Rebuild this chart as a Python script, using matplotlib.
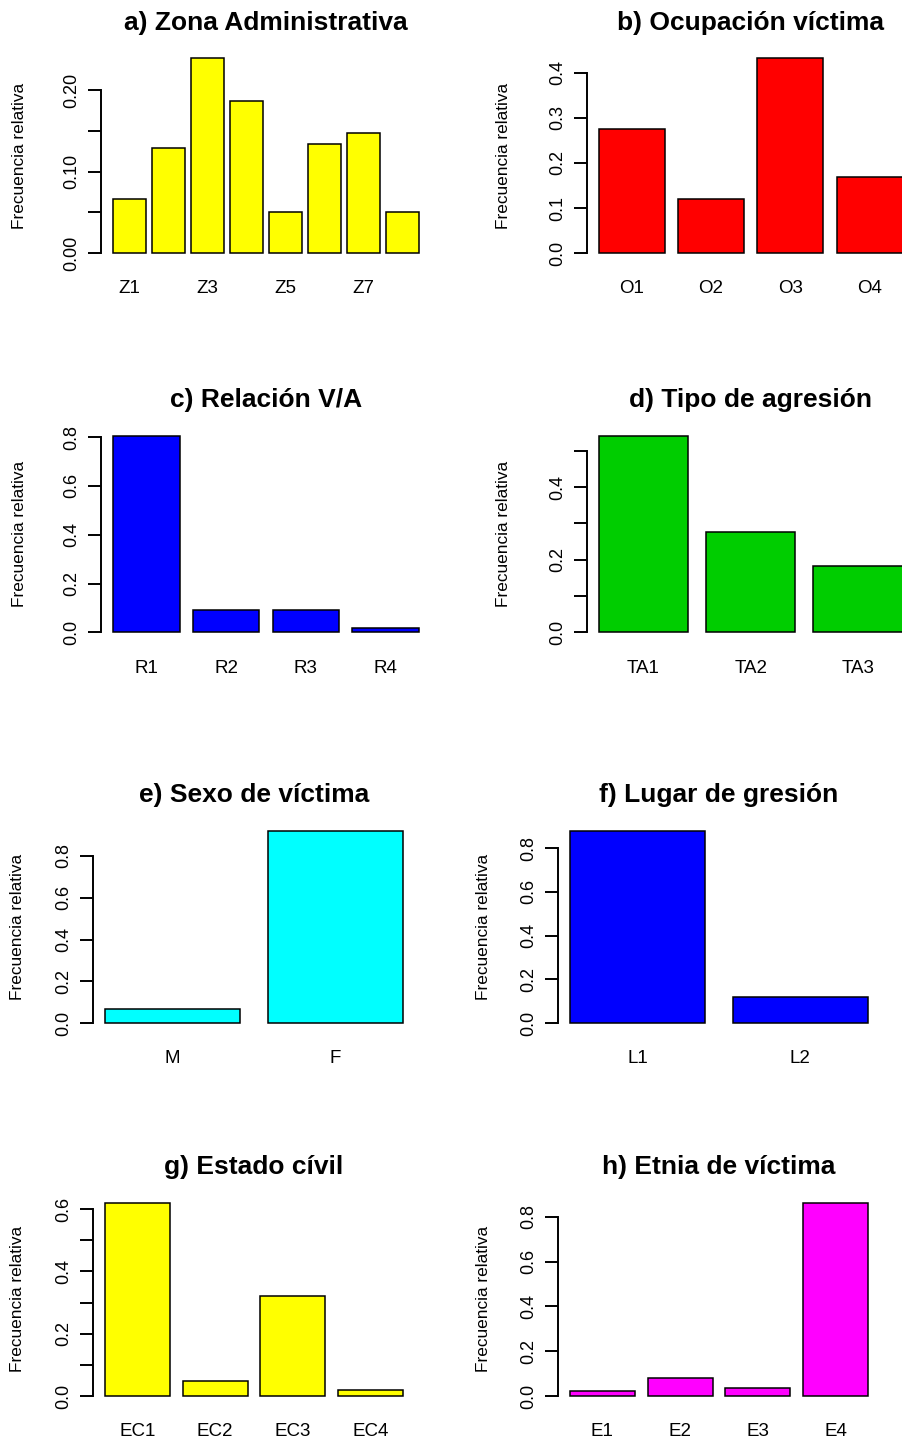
import numpy as np
import matplotlib
matplotlib.use("Agg")
import matplotlib.pyplot as plt

plt.rcParams['font.family'] = ['Liberation Sans', 'DejaVu Sans']

# relative frequencies
zona_names = ["Z1", "Z2", "Z3", "Z4", "Z5", "Z6", "Z7", "Z8"]
zona_freq = [0.066, 0.129, 0.239, 0.187, 0.050, 0.134, 0.148, 0.050]

ocup_names = ["O1", "O2", "O3", "O4"]
ocup_freq = [0.275, 0.121, 0.432, 0.170]

rel_names = ["R1", "R2", "R3", "R4"]
rel_freq = [0.805, 0.093, 0.093, 0.017]

tipo_names = ["TA1", "TA2", "TA3"]
tipo_freq = [0.541, 0.277, 0.182]

sexo_names = ["M", "F"]
sexo_freq = [0.069, 0.920]

lugar_names = ["L1", "L2"]
lugar_freq = [0.879, 0.120]

civil_names = ["EC1", "EC2", "EC3", "EC4"]
civil_freq = [0.620, 0.047, 0.320, 0.018]

etnia_names = ["E1", "E2", "E3", "E4"]
etnia_freq = [0.024, 0.081, 0.036, 0.863]

W, H = 902, 1441
fig = plt.figure(figsize=(W / 100, H / 100), dpi=100)

# title, names, values, colour, plot region px (left, right, top, bottom),
# tick step, label every k ticks, format, show every k-th name, ylabel distance px
panels = [
    ("a) Zona Administrativa", zona_names, zona_freq, "#FFFF00",
     (101, 431, 50.5, 261), 0.05, 2, "%.2f", 2, 82),
    ("b) Ocupación víctima", ocup_names, ocup_freq, "#FF0000",
     (586.7, 914.7, 50.5, 261), 0.1, 1, "%.1f", 1, 83),
    ("c) Relación V/A", rel_names, rel_freq, "#0000FF",
     (101, 431, 428, 640.2), 0.2, 1, "%.1f", 1, 82),
    ("d) Tipo de agresión", tipo_names, tipo_freq, "#00CD00",
     (586.7, 914.7, 428, 640.2), 0.1, 2, "%.1f", 1, 83),
    ("e) Sexo de víctima", sexo_names, sexo_freq, "#00FFFF",
     (93, 415, 823, 1031), 0.2, 1, "%.1f", 1, 75),
    ("f) Lugar de gresión", lugar_names, lugar_freq, "#0000FF",
     (558, 880, 823, 1031), 0.2, 1, "%.1f", 1, 75),
    ("g) Estado cívil", civil_names, civil_freq, "#FFFF00",
     (93, 415, 1195, 1403.8), 0.1, 2, "%.1f", 1, 75),
    ("h) Etnia de víctima", etnia_names, etnia_freq, "#FF00FF",
     (558, 880, 1195, 1403.8), 0.2, 1, "%.1f", 1, 75),
]

for title, names, vals, color, (x0, x1, y0, y1), step, every, fmt, name_every, ylab_d in panels:
    ax = fig.add_axes([x0 / W, 1 - y1 / H, (x1 - x0) / W, (y1 - y0) / H])
    n = len(vals)
    pos = [0.7 + 1.2 * i for i in range(n)]
    ax.bar(pos, vals, width=1.0, color=color, edgecolor="black", linewidth=1.1)

    # R-like axis ranges (4% extension)
    r = 1.2 * n - 0.2
    ax.set_xlim(0.2 - 0.04 * r, 1.2 * n + 0.04 * r)
    top = max(vals)
    ax.set_ylim(-0.04 * top, 1.04 * top)

    ticks = np.round(np.arange(0, top + 1e-9, step), 3)
    ax.set_yticks(ticks)
    ax.set_yticklabels([fmt % t if i % every == 0 else "" for i, t in enumerate(ticks)],
                       rotation=90, va="center")
    ax.tick_params(axis="y", length=9.5, width=1.4, labelsize=13, pad=5.5)

    ax.set_xticks(pos)
    ax.set_xticklabels([nm if i % name_every == 0 else "" for i, nm in enumerate(names)])
    ax.tick_params(axis="x", length=0, labelsize=13.5, pad=14)

    for side in ["top", "right", "bottom"]:
        ax.spines[side].set_visible(False)
    ax.spines["left"].set_linewidth(1.4)
    ax.spines["left"].set_bounds(0, ticks[-1])

    ax.set_title(title, fontsize=19, fontweight="bold", pad=15)
    ax.text(-ylab_d / (x1 - x0), 0.5, "Frecuencia relativa", transform=ax.transAxes,
            rotation=90, ha="center", va="center", fontsize=12.4)

fig.savefig("out.png", dpi=100)
